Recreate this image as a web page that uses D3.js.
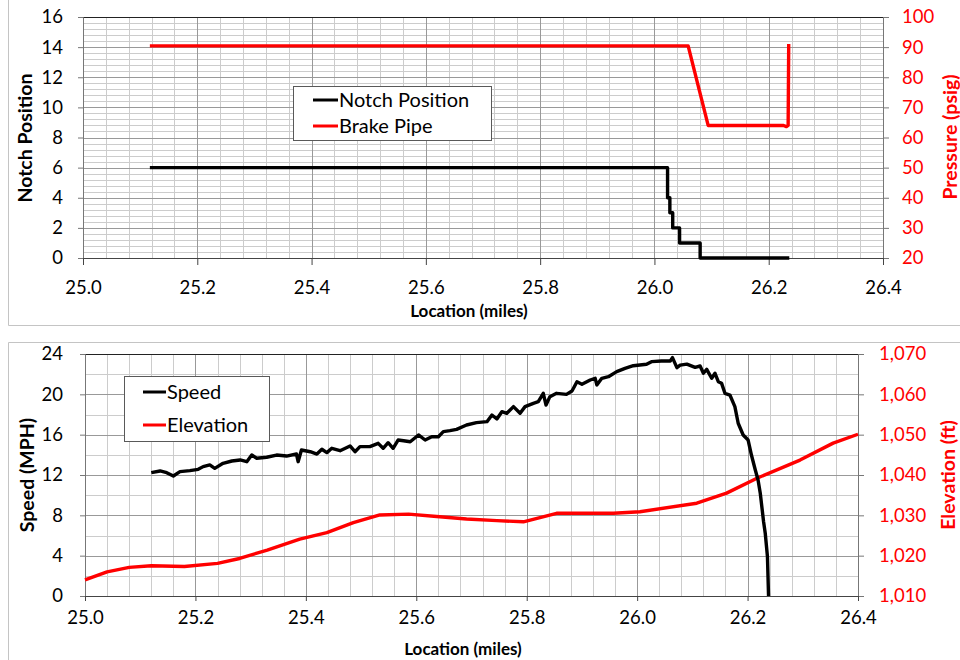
<!DOCTYPE html>
<html>
<head>
<meta charset="utf-8">
<script src="https://cdn.jsdelivr.net/npm/d3@7"></script>
<style>
  body { margin: 0; background: #fff; }
  svg { display: block; font-family: Lato, 'Open Sans', sans-serif; }
  .tick text { font-family: Lato, 'Open Sans', sans-serif; font-size: 18.5px; }
  .grid path { display: none; }
  .grid line { shape-rendering: crispEdges; }
  .grid.minor line { stroke: #cccccc; }
  .grid.major line { stroke: #999999; }
  .title { font-size: 17px; font-weight: bold; }
  .title.v { font-size: 19.5px; }
  .legend text { font-size: 20px; }
</style>
</head>
<body>
<svg width="960" height="660"></svg>
<script>
// ---- data ----
// top chart: notch position (left axis) and brake pipe pressure (right axis)
var notchMiles = [25.117, 26.023, 26.027, 26.032, 26.044, 26.080, 26.236]
var notchValues = [6, 4, 3, 2, 1, 0, 0]

var brakeMiles = [25.117, 25.6, 26.059, 26.094, 26.160, 26.226, 26.231, 26.234, 26.235]
var brakePsig = [90.4, 90.4, 90.4, 64, 64, 64, 63.6, 64, 91]

// bottom chart: speed (left axis) and elevation (right axis)
var speedMiles = [
  25.120, 25.136, 25.148, 25.160, 25.172, 25.190, 25.205, 25.214, 25.226, 25.235,
  25.250, 25.266, 25.281, 25.293, 25.302, 25.311, 25.329, 25.347, 25.365, 25.383,
  25.386, 25.392, 25.408, 25.420, 25.429, 25.438, 25.447, 25.462, 25.480, 25.489,
  25.498, 25.516, 25.531, 25.540, 25.549, 25.558, 25.567, 25.577, 25.589, 25.604,
  25.616, 25.628, 25.640, 25.649, 25.661, 25.673, 25.691, 25.709, 25.728, 25.737,
  25.746, 25.755, 25.764, 25.776, 25.788, 25.797, 25.812, 25.821, 25.830, 25.835,
  25.842, 25.854, 25.872, 25.882, 25.891, 25.900, 25.915, 25.924, 25.927, 25.936,
  25.948, 25.963, 25.978, 25.993, 26.017, 26.026, 26.044, 26.060, 26.064, 26.072,
  26.078, 26.090, 26.105, 26.114, 26.120, 26.126, 26.135, 26.141, 26.147, 26.153,
  26.159, 26.168, 26.177, 26.183, 26.192, 26.201, 26.207, 26.214, 26.219, 26.223,
  26.229, 26.232, 26.236, 26.238
]
var speedMph = [
  12.23, 12.40, 12.23, 11.90, 12.33, 12.43, 12.56, 12.83, 13.00, 12.66,
  13.16, 13.39, 13.49, 13.32, 13.98, 13.66, 13.76, 13.98, 13.88, 14.08,
  13.32, 14.48, 14.31, 14.08, 14.55, 14.22, 14.65, 14.41, 14.88, 14.31,
  14.81, 14.81, 15.14, 14.65, 15.20, 14.65, 15.47, 15.40, 15.30, 15.97,
  15.47, 15.80, 15.80, 16.30, 16.40, 16.53, 16.96, 17.19, 17.29, 17.95,
  17.55, 18.28, 18.12, 18.78, 18.12, 18.78, 19.11, 19.27, 20.10, 18.94,
  19.77, 20.10, 20.00, 20.33, 21.25, 21.00, 21.42, 21.59, 20.93, 21.59,
  21.75, 22.25, 22.58, 22.84, 22.98, 23.24, 23.31, 23.31, 23.64, 22.65,
  22.90, 23.00, 22.68, 22.81, 22.09, 22.48, 21.59, 22.09, 21.25, 21.09,
  20.10, 19.93, 18.78, 17.13, 15.97, 15.47, 13.98, 12.50, 11.50, 10.19,
  7.37, 6.22, 3.90, 0
]

var elevMiles = [
  25.00, 25.04, 25.08, 25.12, 25.18, 25.24, 25.28, 25.33, 25.389, 25.438,
  25.486, 25.534, 25.586, 25.637, 25.691, 25.746, 25.794, 25.854, 25.909, 25.957,
  26.005, 26.108, 26.162, 26.217, 26.295, 26.355, 26.40
]
var elevFt = [
  1014.0, 1016.0, 1017.1, 1017.5, 1017.3, 1018.1, 1019.3, 1021.4, 1024.1, 1025.7,
  1028.2, 1030.1, 1030.3, 1029.7, 1029.1, 1028.7, 1028.4, 1030.5, 1030.5, 1030.5,
  1030.9, 1033.0, 1035.5, 1039.2, 1043.7, 1047.9, 1050.1
]

// axis ticks
var mileTicks = d3.range(0, 8).map(i => 25 + i * 0.2)
var mileMinor = d3.range(0, 36).map(i => 25 + i * 0.04)
var notchTicks = d3.range(0, 17, 2)
var psigTicks = d3.range(20, 101, 10)
var speedTicks = d3.range(0, 25, 4)
var elevTicks = d3.range(1010, 1071, 10)

var RED = '#ff0000'
const svg = d3.select('svg')

// outer chart borders (as in the spreadsheet screenshot)
svg.append('path')
  .attr('d', 'M8.5,-2V325.5H965')
  .attr('fill', 'none')
  .attr('stroke', '#c4c4c4')
svg.append('path')
  .attr('d', 'M8.5,665V342.5H965')
  .attr('fill', 'none')
  .attr('stroke', '#c4c4c4')

function drawPanel(p) {
  const x = d3.scaleLinear().domain([25, 26.4]).range([p.left, p.right])
  const yL = d3.scaleLinear().domain(p.leftDomain).range([p.bottom, p.top])
  const yR = d3.scaleLinear().domain(p.rightDomain).range([p.bottom, p.top])
  const w = p.right - p.left
  const h = p.bottom - p.top
  const g = svg.append('g')

  // grid - minor then major
  g.append('g')
    .attr('class', 'grid minor')
    .attr('transform', `translate(0, ${p.bottom})`)
    .call(d3.axisBottom(x).tickValues(mileMinor).tickSize(-h).tickFormat(''))
  g.append('g')
    .attr('class', 'grid minor')
    .attr('transform', `translate(${p.left}, 0)`)
    .call(d3.axisLeft(yL).tickValues(p.leftMinor).tickSize(-w).tickFormat(''))
  g.append('g')
    .attr('class', 'grid major')
    .attr('transform', `translate(0, ${p.bottom})`)
    .call(d3.axisBottom(x).tickValues(mileTicks).tickSize(-h).tickFormat(''))
  g.append('g')
    .attr('class', 'grid major')
    .attr('transform', `translate(${p.left}, 0)`)
    .call(d3.axisLeft(yL).tickValues(p.leftTicks).tickSize(-w).tickFormat(''))

  // top edge of plot
  g.append('line')
    .attr('x1', p.left).attr('x2', p.right + 0.5)
    .attr('y1', p.top + 0.5).attr('y2', p.top + 0.5)
    .attr('stroke', '#222')

  // axes
  const left = g.append('g')
    .attr('transform', `translate(${p.left}, 0)`)
    .call(d3.axisLeft(yL).tickValues(p.leftTicks).tickSize(5).tickPadding(p.leftPad))
  left.selectAll('path, line').attr('stroke', '#777')
  left.selectAll('text').attr('fill', '#000')

  const right = g.append('g')
    .attr('transform', `translate(${p.right}, 0)`)
    .call(
      d3.axisRight(yR)
        .tickValues(p.rightTicks)
        .tickSize(6)
        .tickPadding(p.rightPad)
        .tickFormat(p.rightFormat)
    )
  right.selectAll('path, line').attr('stroke', '#777')
  right.selectAll('text').attr('fill', RED)

  const bottom = g.append('g')
    .attr('transform', `translate(0, ${p.bottom})`)
    .call(
      d3.axisBottom(x)
        .tickValues(mileTicks)
        .tickFormat(d3.format('.1f'))
        .tickSize(p.bottomTick)
        .tickPadding(p.bottomPad)
    )
  bottom.selectAll('path, line').attr('stroke', '#444')
  bottom.selectAll('text').attr('fill', '#000')

  // series
  const lineL = d3.line().x(d => x(d[0])).y(d => yL(d[1]))
  const lineR = d3.line().x(d => x(d[0])).y(d => yR(d[1]))
  if (p.leftCurve) lineL.curve(p.leftCurve)

  g.append('path')
    .datum(d3.zip(p.rightX, p.rightY))
    .attr('d', lineR)
    .attr('fill', 'none')
    .attr('stroke', RED)
    .attr('stroke-width', 3.4)
    .attr('stroke-linejoin', 'round')
  g.append('path')
    .datum(d3.zip(p.leftX, p.leftY))
    .attr('d', lineL)
    .attr('fill', 'none')
    .attr('stroke', '#000')
    .attr('stroke-width', 3.4)
    .attr('stroke-linejoin', 'round')

  // titles
  g.append('text')
    .attr('class', 'title v')
    .attr('transform', `translate(${p.leftTitle[0]}, ${p.leftTitle[1]}) rotate(-90)`)
    .attr('text-anchor', 'middle')
    .text(p.leftLabel)
  g.append('text')
    .attr('class', 'title v')
    .attr('transform', `translate(${p.rightTitle[0]}, ${p.rightTitle[1]}) rotate(-90)`)
    .attr('text-anchor', 'middle')
    .attr('fill', RED)
    .text(p.rightLabel)
  g.append('text')
    .attr('class', 'title')
    .attr('x', p.xTitle[0])
    .attr('y', p.xTitle[1])
    .attr('text-anchor', 'middle')
    .text('Location (miles)')

  // legend
  const lg = g.append('g').attr('class', 'legend')
  lg.append('rect')
    .attr('x', p.legend.x + 0.5).attr('y', p.legend.y + 0.5)
    .attr('width', p.legend.w).attr('height', p.legend.h)
    .attr('fill', '#fff')
    .attr('stroke', '#595959')
  p.legend.items.forEach(function(it, i) {
    const ly = p.legend.rowY[i]
    lg.append('line')
      .attr('x1', p.legend.lineX[0]).attr('x2', p.legend.lineX[1])
      .attr('y1', ly).attr('y2', ly)
      .attr('stroke', it.color)
      .attr('stroke-width', 3)
    lg.append('text')
      .attr('x', p.legend.lineX[1] + 1)
      .attr('y', ly + 7)
      .text(it.name)
  })
}

drawPanel({
  left: 83, right: 883, top: 17, bottom: 258,
  leftDomain: [0, 16], rightDomain: [20, 100],
  leftTicks: notchTicks, leftMinor: d3.range(0, 41).map(i => i * 0.4),
  rightTicks: psigTicks, rightFormat: d3.format('d'),
  leftPad: 15, rightPad: 13, bottomTick: 7, bottomPad: 16,
  leftX: notchMiles, leftY: notchValues, leftCurve: d3.curveStepAfter,
  rightX: brakeMiles, rightY: brakePsig,
  leftLabel: 'Notch Position', leftTitle: [32, 138],
  rightLabel: 'Pressure (psig)', rightTitle: [957, 137],
  xTitle: [469, 317],
  legend: {
    x: 293, y: 86, w: 198, h: 54,
    lineX: [313, 338], rowY: [100, 126],
    items: [{ name: 'Notch Position', color: '#000' }, { name: 'Brake Pipe', color: RED }]
  }
})

drawPanel({
  left: 85, right: 858, top: 354, bottom: 596,
  leftDomain: [0, 24], rightDomain: [1010, 1070],
  leftTicks: speedTicks, leftMinor: d3.range(0, 25, 2),
  rightTicks: elevTicks, rightFormat: d3.format(','),
  leftPad: 17, rightPad: 15, bottomTick: 5, bottomPad: 10,
  leftX: speedMiles, leftY: speedMph,
  rightX: elevMiles, rightY: elevFt,
  leftLabel: 'Speed (MPH)', leftTitle: [34, 475],
  rightLabel: 'Elevation (ft)', rightTitle: [955, 475],
  xTitle: [463, 655],
  legend: {
    x: 124, y: 376, w: 145, h: 65,
    lineX: [143, 166], rowY: [392, 425],
    items: [{ name: 'Speed', color: '#000' }, { name: 'Elevation', color: RED }]
  }
})
</script>
</body>
</html>
